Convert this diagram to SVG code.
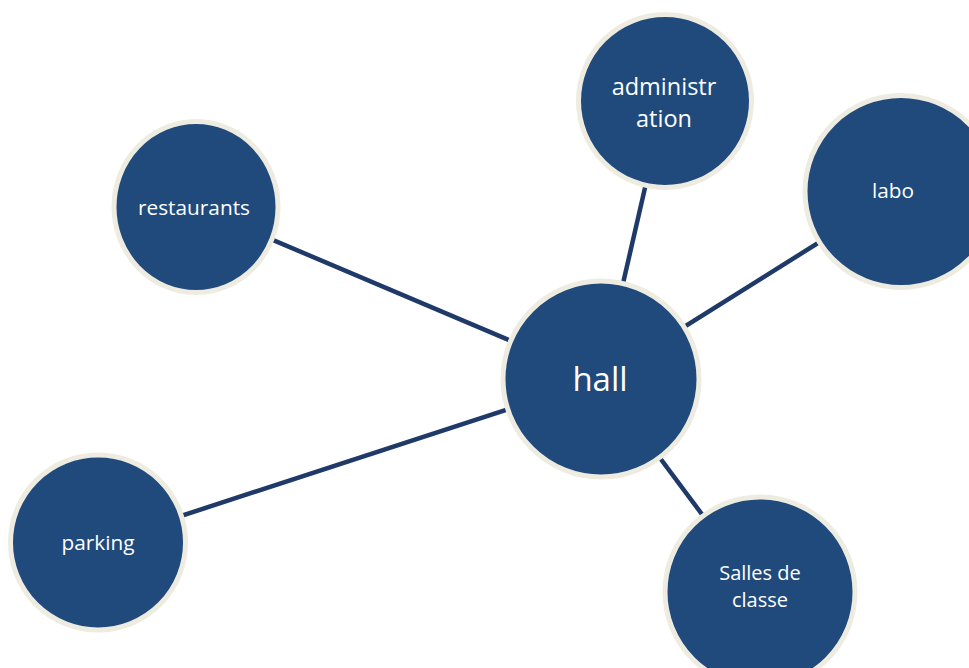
<svg xmlns="http://www.w3.org/2000/svg" width="969" height="668" viewBox="0 0 969 668">
  <style>
    .node circle { fill: #204A7C; stroke: #EEEBE0; stroke-width: 5; }
    .node text { fill: #FFFFFF; font-family: "Open Sans", "Noto Sans", "Liberation Sans", sans-serif; text-anchor: middle; dominant-baseline: central; font-size: 20.8px; }
    .edges line { stroke: #1F3A68; stroke-width: 4.5; stroke-linecap: butt; }
  </style>
  <rect width="969" height="668" fill="#FFFFFF"/>

  <!-- connectors between the hub and its satellites -->
  <g class="edges">
    <line x1="195" y1="207" x2="601" y2="379"/>
    <line x1="665" y1="101" x2="601" y2="379"/>
    <line x1="901" y1="191" x2="601" y2="379"/>
    <line x1="98" y1="543" x2="601" y2="379"/>
    <line x1="760" y1="592" x2="601" y2="379"/>
  </g>

  <g id="hall" class="node">
    <circle cx="601" cy="379" r="98"/>
    <text x="600" y="378" style="font-size:33px">hall</text>
  </g>

  <g id="administration" class="node">
    <circle cx="665" cy="101" r="86.5"/>
    <text x="664" y="86" style="font-size:23.5px">administr</text>
    <text x="664" y="118" style="font-size:23.5px">ation</text>
  </g>

  <g id="labo" class="node">
    <circle cx="901" cy="191.5" r="96"/>
    <text x="893" y="190">labo</text>
  </g>

  <g id="restaurants" class="node">
    <ellipse cx="196" cy="207" rx="82" ry="85.5" style="fill:#204A7C;stroke:#EEEBE0;stroke-width:5"/>
    <text x="194" y="207">restaurants</text>
  </g>

  <g id="parking" class="node">
    <circle cx="98" cy="542.5" r="87.5"/>
    <text x="98" y="542">parking</text>
  </g>

  <g id="salles" class="node">
    <circle cx="760" cy="592" r="95"/>
    <text x="760" y="572" style="font-size:20px">Salles de</text>
    <text x="760" y="599" style="font-size:20px">classe</text>
  </g>
</svg>
